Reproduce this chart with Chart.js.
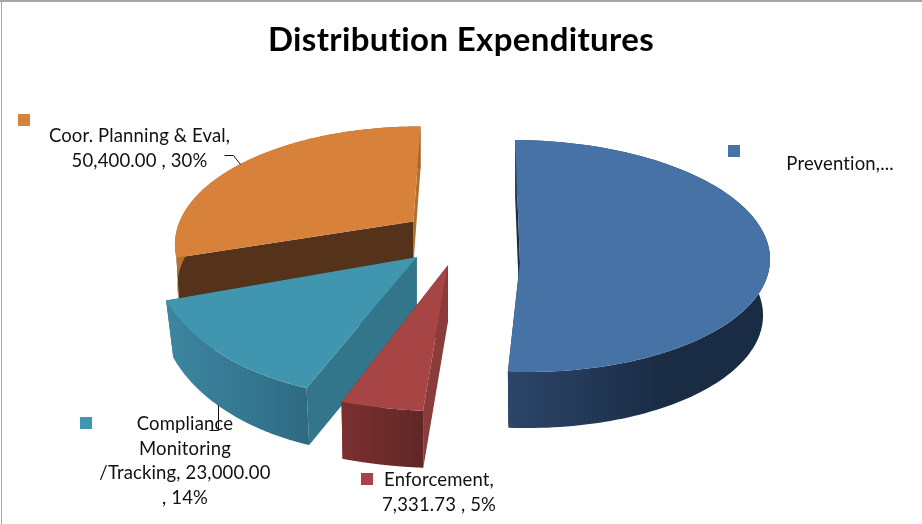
<!DOCTYPE html>
<html>
<head>
<meta charset="utf-8">
<title>Distribution Expenditures</title>
<script src="https://cdn.jsdelivr.net/npm/chart.js@4"></script>
<style>
    html, body { margin: 0; padding: 0; background: #fff; overflow: hidden; }
    canvas { display: block; }
</style>
</head>
<body>
<canvas id="pieChart" width="922" height="524"></canvas>
<script>
// Values (Prevention is cut off there, so it is estimated from the percentages)
const categories = ['Prevention', 'Enforcement', 'Compliance Monitoring /Tracking', 'Coor. Planning & Eval'];
const expenditures = [84270, 7331.73, 23000, 50400];
const sliceOffsets = [59, 52, 58, 56];
const sliceColors = ['#4672A6', '#A64543', '#4096AF', '#D7813B'];

// Label text as wrapped in the picture
const labelLines = [
    ['Prevention,...'],
    ['Enforcement,', '7,331.73 , 5%'],
    ['Compliance', 'Monitoring', '/Tracking, 23,000.00', ', 14%'],
    ['Coor. Planning & Eval,', '50,400.00 , 30%']
];

// 3D look of each slice, the old pie is not a clean projection so each one gets its own ellipse
// startWarp is in degrees and bends the rim end of the first cut towards where perspective puts it
const sliceViews = [
    { nudge: [0, 23], center: [0, -6], rx: 250, ry: 116, skew: 0.06, depth: 56, shrink: 0.972, startWarp: 0,
      cutStart: '#1B2C45', cutEnd: '#1B2C45', wall: ['#2C4669', '#1A2B44', '#1A2B44'] },
    { nudge: [-2, 2], center: [-2, -4], rx: 300, ry: 150, skew: 0, depth: 57, shrink: 0.99, startWarp: 0,
      cutStart: '#8A3B3A', cutEnd: '#6B2B2B', wall: ['#7A2F2F', '#6B2B2B', '#612626'] },
    { nudge: [-3, -1], center: [-28, -5], rx: 236, ry: 145, skew: 0, depth: 57, shrink: 0.968, startWarp: 0,
      cutStart: '#33758A', cutEnd: '#2F6B80', wall: ['#3D86A0', '#347690', '#2E6A80'] },
    { nudge: [-2, 0], center: [5, 23], rx: 243.5, ry: 118, skew: 0, depth: 42, shrink: 0.99, startWarp: 13,
      cutStart: '#55331A', cutEnd: '#B0702F', wall: ['#B87030', '#A86428', '#A86428'] }
];

// Back to front
const drawOrder = [3, 0, 2, 1];

const labelStyle = [
    { x: 840, y: 164, align: 'center', marker: [728, 145] },
    { x: 439, y: 480, align: 'center', marker: [361, 473] },
    { x: 185, y: 424, align: 'center', marker: [80, 417] },
    { x: 139.5, y: 136, align: 'center', marker: [18, 114] }
];

const leaderLines = [
    [[224, 155], [233, 155], [240, 164]],
    [[218, 405], [218, 430], [209, 430]]
];

function rimPoint(s, angle, bottom) {
    const k = bottom ? s.view.shrink : 1;
    const cy = s.ey + (bottom ? s.view.depth : 0);
    const y = cy + s.view.ry * Math.sin(angle);
    const x = s.ex + s.view.rx * k * Math.cos(angle) + s.view.skew * (y - cy);
    return [x, y];
}

function fillPoly(ctx, pts, fill) {
    ctx.beginPath();
    pts.forEach((p, i) => i ? ctx.lineTo(p[0], p[1]) : ctx.moveTo(p[0], p[1]));
    ctx.closePath();
    ctx.fillStyle = fill;
    ctx.fill();
}

function arcPoints(s, bottom) {
    const pts = [];
    const steps = 120;
    for (let i = 0; i <= steps; i++) {
        pts.push(rimPoint(s, s.start + (s.end - s.start) * i / steps, bottom));
    }
    return pts;
}

const pie3d = {
    id: 'pie3d',
    beforeDraw(chart) {
        // any letter spacing also turns off the Lato ti ligature
        chart.ctx.letterSpacing = '0.35px';
    },
    beforeDatasetDraw(chart, args) {
        const ctx = chart.ctx;
        const arcs = chart.getDatasetMeta(args.index).data;
        drawOrder.forEach(i => {
            const arc = arcs[i];
            const view = sliceViews[i];
            const off = arc.options.offset;
            const mid = (arc.startAngle + arc.endAngle) / 2;
            const ax = arc.x + off * Math.cos(mid) + view.nudge[0];
            const ay = arc.y + 0.5 * off * Math.sin(mid) + view.nudge[1];
            const s = {
                view,
                start: arc.startAngle + view.startWarp * Math.PI / 180,
                end: arc.endAngle,
                ex: ax + view.center[0],
                ey: ay + view.center[1]
            };
            const apexLow = [ax, ay + view.depth];

            // cut faces
            fillPoly(ctx, [[ax, ay], rimPoint(s, s.end), rimPoint(s, s.end, true), apexLow], view.cutEnd);
            fillPoly(ctx, [[ax, ay], rimPoint(s, s.start), rimPoint(s, s.start, true), apexLow], view.cutStart);

            // outer wall
            const top = arcPoints(s, false);
            const low = arcPoints(s, true);
            const xs = top.concat(low).map(p => p[0]);
            const minX = Math.min(...xs);
            const maxX = Math.max(...xs);
            const grad = ctx.createLinearGradient(minX, 0, maxX, 0);
            grad.addColorStop(0, view.wall[0]);
            grad.addColorStop(0.6, view.wall[1]);
            grad.addColorStop(1, view.wall[2]);
            fillPoly(ctx, top.concat(low.reverse()), grad);

            // top face
            fillPoly(ctx, [[ax, ay]].concat(top), arc.options.backgroundColor);
        });
        return false;
    },
    afterDraw(chart) {
        const ctx = chart.ctx;
        ctx.save();
        // frame of the chart area, only top and left show
        ctx.fillStyle = '#A6A6A6';
        ctx.fillRect(0, 0, 922, 2);
        ctx.fillRect(1, 0, 1, 524);

        ctx.font = '18.5px Lato';
        ctx.letterSpacing = '0.15px';
        ctx.textBaseline = 'middle';
        labelStyle.forEach((st, i) => {
            ctx.fillStyle = sliceColors[i];
            ctx.fillRect(st.marker[0], st.marker[1], 12, 12);
            ctx.fillStyle = '#111';
            ctx.textAlign = st.align;
            labelLines[i].forEach((line, n) => ctx.fillText(line, st.x, st.y + n * 24.6));
        });

        ctx.strokeStyle = '#111';
        ctx.lineWidth = 1;
        leaderLines.forEach(pts => {
            ctx.beginPath();
            pts.forEach((p, i) => i ? ctx.lineTo(p[0] + 0.5, p[1] + 0.5) : ctx.moveTo(p[0] + 0.5, p[1] + 0.5));
            ctx.stroke();
        });
        ctx.restore();
    }
};

new Chart(document.getElementById('pieChart'), {
    type: 'pie',
    data: {
        labels: categories,
        datasets: [{
            data: expenditures,
            backgroundColor: sliceColors,
            offset: sliceOffsets,
            borderWidth: 0
        }]
    },
    options: {
        responsive: false,
        animation: false,
        radius: 250,
        rotation: 0.5,
        layout: { padding: { bottom: 129 } },
        plugins: {
            legend: { display: false },
            tooltip: { enabled: false },
            title: {
                display: true,
                text: 'Distribution Expenditures',
                color: '#000',
                font: { family: 'Lato', size: 33, weight: 'bold' },
                padding: { top: 21, bottom: 20 }
            }
        }
    },
    plugins: [pie3d]
});
</script>
</body>
</html>
